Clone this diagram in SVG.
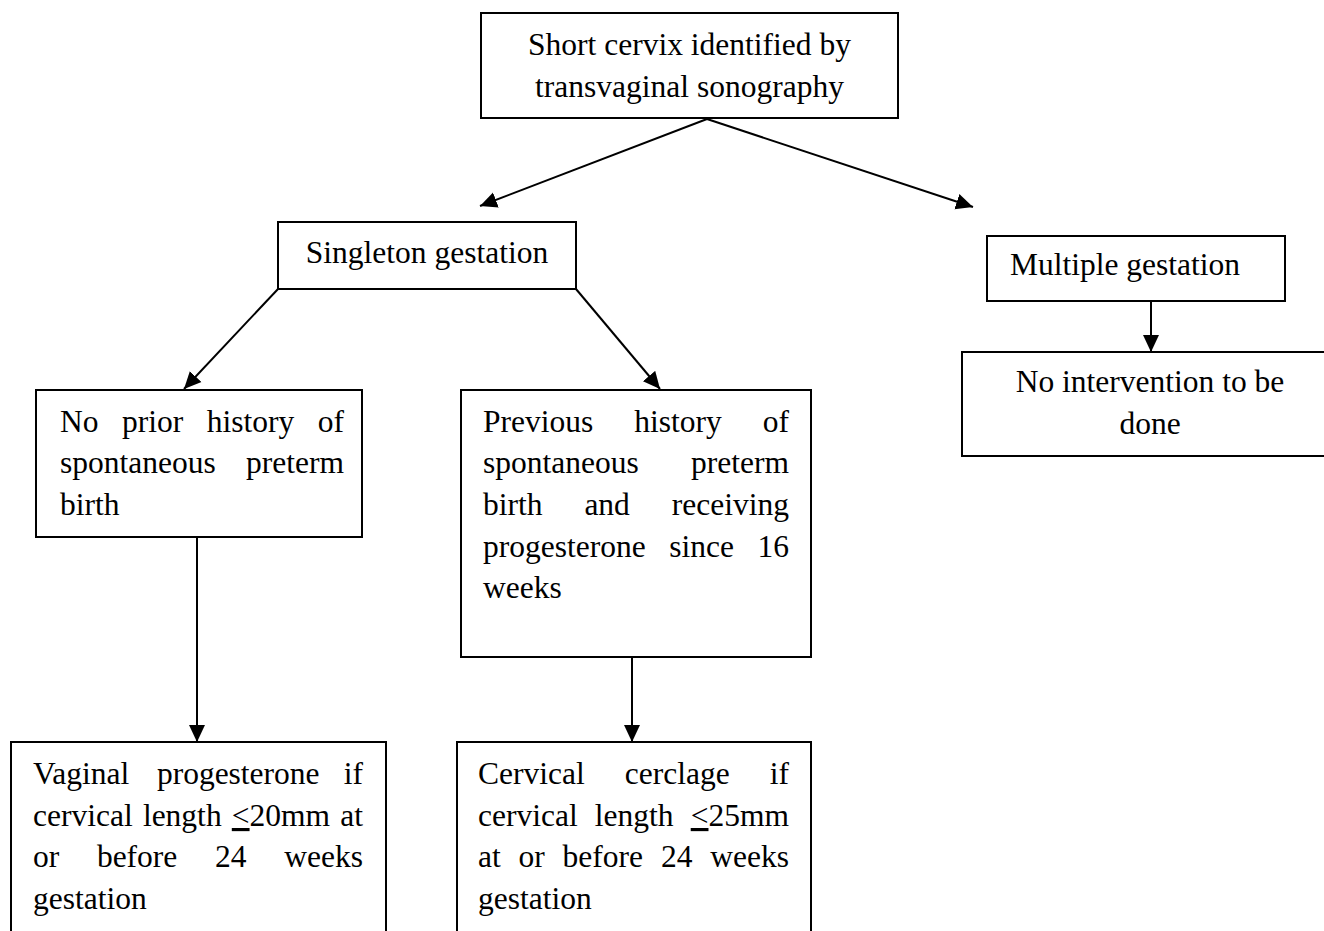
<svg xmlns="http://www.w3.org/2000/svg" width="1324" height="931" viewBox="0 0 1324 931">
<style>
.box{fill:#fff;stroke:#000;stroke-width:2}
.t{font-family:"Liberation Serif","Times New Roman",serif;font-size:31.5px;fill:#000}
.c{text-anchor:middle}
.e{text-anchor:end}
.ln{stroke:#000;stroke-width:2;fill:none;marker-end:url(#ah)}
.u{text-decoration:underline}
</style>
<defs>
<marker id="ah" markerUnits="userSpaceOnUse" markerWidth="18" markerHeight="18" viewBox="0 0 18 18" refX="17" refY="9" orient="auto">
<path d="M0,1 L17,9 L0,17 Z" fill="#000"/>
</marker>
</defs>
<g id="connectors">
<line class="ln" x1="707" y1="119" x2="480" y2="206"/>
<line class="ln" x1="707" y1="119" x2="973" y2="207"/>
<line class="ln" x1="278" y1="289" x2="184" y2="389"/>
<line class="ln" x1="576" y1="289" x2="660" y2="389"/>
<line class="ln" x1="1151" y1="301" x2="1151" y2="352"/>
<line class="ln" x1="197" y1="537" x2="197" y2="742"/>
<line class="ln" x1="632" y1="657" x2="632" y2="742"/>
</g>
<g id="n-top">
<rect class="box" x="481" y="13" width="417" height="105"/>
<text class="t c" x="689.5" y="55">Short cervix identified by</text>
<text class="t c" x="689.5" y="97">transvaginal sonography</text>
</g>
<g id="n-singleton">
<rect class="box" x="278" y="222" width="298" height="67"/>
<text class="t c" x="427" y="263">Singleton gestation</text>
</g>
<g id="n-multiple">
<rect class="box" x="987" y="236" width="298" height="65"/>
<text class="t" x="1010" y="275">Multiple gestation</text>
</g>
<g id="n-nointervention">
<rect class="box" x="962" y="352" width="380" height="104"/>
<text class="t c" x="1150" y="392">No intervention to be</text>
<text class="t c" x="1150" y="434">done</text>
</g>
<g id="n-noprior">
<rect class="box" x="36" y="390" width="326" height="147"/>
<text class="t" y="432"><tspan x="60">No</tspan><tspan x="122">prior</tspan><tspan x="206.8">history</tspan><tspan x="344" class="e">of</tspan></text>
<text class="t" y="473"><tspan x="60">spontaneous</tspan><tspan x="344" class="e">preterm</tspan></text>
<text class="t" x="60" y="515">birth</text>
</g>
<g id="n-previous">
<rect class="box" x="461" y="390" width="350" height="267"/>
<text class="t" y="432"><tspan x="483">Previous</tspan><tspan x="634.3">history</tspan><tspan x="789" class="e">of</tspan></text>
<text class="t" y="473"><tspan x="483">spontaneous</tspan><tspan x="789" class="e">preterm</tspan></text>
<text class="t" y="515"><tspan x="483">birth</tspan><tspan x="584.4">and</tspan><tspan x="789" class="e">receiving</tspan></text>
<text class="t" y="557"><tspan x="483">progesterone</tspan><tspan x="669.3">since</tspan><tspan x="789" class="e">16</tspan></text>
<text class="t" x="483" y="598">weeks</text>
</g>
<g id="n-vaginal">
<rect class="box" x="11" y="742" width="375" height="200"/>
<text class="t" y="784"><tspan x="33">Vaginal</tspan><tspan x="156.9">progesterone</tspan><tspan x="363" class="e">if</tspan></text>
<text class="t" y="826"><tspan x="33">cervical</tspan><tspan x="142.9">length</tspan><tspan x="231.8"><tspan class="u">&lt;</tspan>20mm</tspan><tspan x="363" class="e">at</tspan></text>
<text class="t" y="867"><tspan x="33">or</tspan><tspan x="96.9">before</tspan><tspan x="215.1">24</tspan><tspan x="363" class="e">weeks</tspan></text>
<text class="t" x="33" y="909">gestation</text>
</g>
<g id="n-cervical">
<rect class="box" x="457" y="742" width="354" height="200"/>
<text class="t" y="784"><tspan x="478">Cervical</tspan><tspan x="624.8">cerclage</tspan><tspan x="789" class="e">if</tspan></text>
<text class="t" y="826"><tspan x="478">cervical</tspan><tspan x="594.8">length</tspan><tspan x="789" class="e"><tspan class="u">&lt;</tspan>25mm</tspan></text>
<text class="t" y="867"><tspan x="478">at</tspan><tspan x="518.6">or</tspan><tspan x="562.6">before</tspan><tspan x="661">24</tspan><tspan x="789" class="e">weeks</tspan></text>
<text class="t" x="478" y="909">gestation</text>
</g>
</svg>
